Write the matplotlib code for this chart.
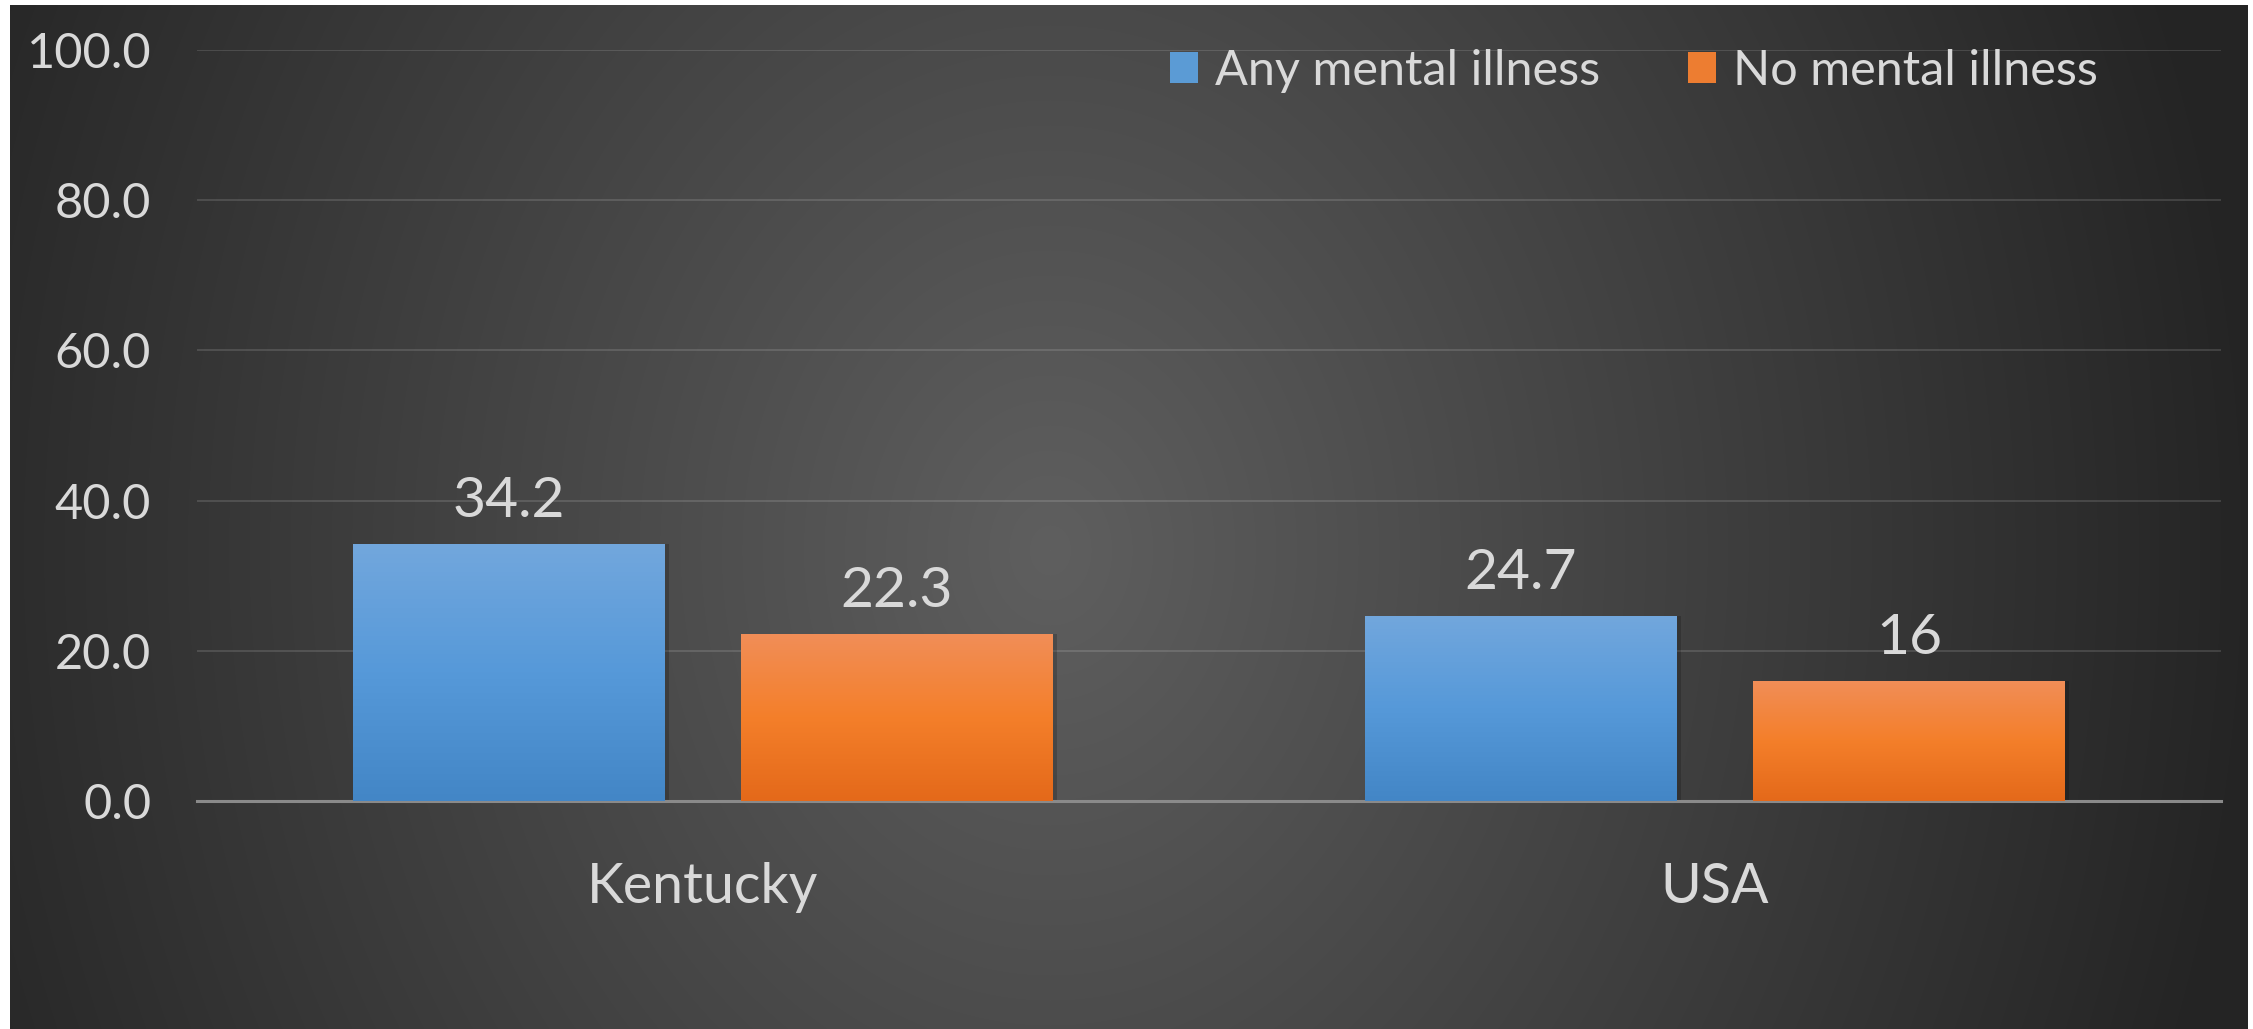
import numpy as np
import matplotlib.pyplot as plt
from matplotlib.colors import LinearSegmentedColormap
from matplotlib.patches import Patch

regions = ['Kentucky', 'USA']
any_mental = [34.2, 24.7]
no_mental = [22.3, 16]
series_names = ['Any mental illness', 'No mental illness']
y_ticks = [0, 20, 40, 60, 80, 100]

plt.rcParams['font.family'] = ['Lato', 'DejaVu Sans']
TEXT = '#d9d9d9'
W, H = 2253, 1029

fig = plt.figure(figsize=(W / 100, H / 100), dpi=100)
fig.patch.set_facecolor('white')

# dark radial backdrop of the chart area
bx0, by0, bw_px, bh_px = 10, 5, 2238, 1024
bg = fig.add_axes([bx0 / W, 0, bw_px / W, bh_px / H], zorder=0)
yy, xx = np.mgrid[0:bh_px, 0:bw_px]
r = np.hypot((xx - 1040) / 1150, (yy - 545) / 1400)
v = np.clip((95 - 56 * r) / 255, 36 / 255, None)
bg.imshow(np.dstack([v, v, v]), aspect='auto', interpolation='bilinear')
bg.axis('off')

ax = fig.add_axes([197 / W, 1 - 801 / H, 2024 / W, 751 / H], zorder=1)
ax.patch.set_alpha(0)

x = np.arange(len(regions))
width = 0.308
off = 0.1917
bars1 = ax.bar(x - off, any_mental, width, color='none', zorder=3)
bars2 = ax.bar(x + off, no_mental, width, color='none', zorder=3)

blue = LinearSegmentedColormap.from_list('b', ['#72a7dd', '#5699d9', '#4386c6'])
orange = LinearSegmentedColormap.from_list('o', ['#f18e58', '#f47f2a', '#e4691a'])


def fill_gradient(bars, cmap):
    grad = cmap(np.linspace(0, 1, 256))[:, None, :3]
    for rect in bars:
        x0, y0 = rect.get_x(), rect.get_y()
        x1, y1 = x0 + rect.get_width(), y0 + rect.get_height()
        # soft shadow to the right of the bar
        ax.bar(x0 + rect.get_width() / 2 + 0.004, rect.get_height(), rect.get_width(),
               color='black', alpha=0.18, zorder=2)
        im = ax.imshow(grad, extent=[x0, x1, y0, y1], aspect='auto', zorder=3)
        im.set_clip_path(rect)


fill_gradient(bars1, blue)
fill_gradient(bars2, orange)

ax.set_xlim(-0.5, 1.5)
ax.set_ylim(0, 100)

ax.bar_label(bars1, fmt='{:g}', padding=12, color=TEXT, fontsize=41)
ax.bar_label(bars2, fmt='{:g}', padding=12, color=TEXT, fontsize=41)

ax.set_yticks(y_ticks)
ax.set_yticklabels(['{:.1f}'.format(t) for t in y_ticks])
ax.set_xticks(x)
ax.set_xticklabels(regions)
ax.tick_params(axis='y', length=0, pad=33, labelsize=35, labelcolor=TEXT)
ax.tick_params(axis='x', length=0, pad=44, labelsize=40, labelcolor=TEXT)

ax.yaxis.grid(True, color='white', alpha=0.13, lw=1.5, zorder=0)
ax.set_axisbelow(True)
for side in ['top', 'left', 'right']:
    ax.spines[side].set_visible(False)
ax.spines['bottom'].set_color('#8a8a8a')
ax.spines['bottom'].set_linewidth(2.2)
ax.spines['bottom'].set_zorder(2)

handles = [Patch(facecolor='#5b9bd5'), Patch(facecolor='#ed7d31')]
leg = fig.legend(handles, series_names, loc='center', ncol=2,
                 bbox_to_anchor=(1634 / W, 1 - 71 / H), frameon=False,
                 fontsize=35, handlelength=0.58, handleheight=0.6,
                 handletextpad=0.35, columnspacing=1.8, borderpad=0,
                 borderaxespad=0)
for t in leg.get_texts():
    t.set_color(TEXT)

fig.savefig('out.png', dpi=100)
